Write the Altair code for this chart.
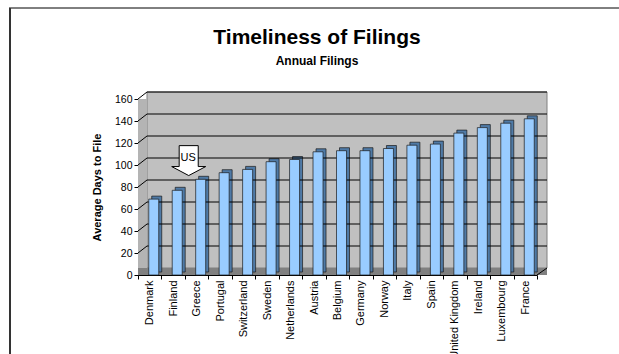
import altair as alt
import pandas as pd

countries = ["Denmark", "Finland", "Greece", "Portugal", "Switzerland", "Sweden",
             "Netherlands", "Austria", "Belgium", "Germany", "Norway", "Italy",
             "Spain", "United Kingdom", "Ireland", "Luxembourg", "France"]
days = [69, 77, 87, 93, 96, 103, 105, 112, 113, 113, 115, 118, 119, 129, 134, 138, 142]
y_ticks = [0, 20, 40, 60, 80, 100, 120, 140, 160]
grid_vals = [20, 40, 60, 80, 100, 120, 140, 160]
title_text = "Timeliness of Filings"
subtitle_text = "Annual Filings"
y_title = "Average Days to File"

df = pd.DataFrame({"country": countries, "days": days})
grid_df = pd.DataFrame({"v": grid_vals})
one = pd.DataFrame({"a": [0]})
arrow_df = pd.DataFrame({"country": ["Finland"], "v": [104], "label": ["US"]})
title_df = pd.DataFrame({"t": [title_text]})
subtitle_df = pd.DataFrame({"t": [subtitle_text]})

W, H = 399, 176
FONT = "Liberation Sans"
YSCALE = alt.Scale(domain=[0, 160], nice=False)
XSCALE = alt.Scale(paddingInner=0, paddingOuter=0)

XAXIS = alt.Axis(labelAngle=-90, labelFontSize=11, labelFont=FONT, labelColor="black",
                 tickBand="extent", tickSize=4, tickColor="black", domainColor="black",
                 labelPadding=1, grid=False, labelOverlap=False)
YAXIS = alt.Axis(values=y_ticks, tickSize=4, tickColor="black", domainColor="black",
                 labelFontSize=10.5, labelFont=FONT, labelColor="black", labelPadding=2,
                 labelOverlap=False, labelFlush=False, grid=False,
                 titleFont=FONT, titleFontSize=11, titleFontWeight="bold",
                 titleColor="black", titlePadding=12)


def xenc():
    return alt.X("country:N", sort=countries, title=None, scale=XSCALE, axis=XAXIS)


def yenc(field):
    return alt.Y(field, title=y_title, scale=YSCALE, axis=YAXIS)


wall = alt.Chart(one).mark_rect(color="#c0c0c0", stroke="#808080", strokeWidth=1).encode(
    x=alt.value(9), x2=alt.value(409), y=alt.value(-7), y2=alt.value(169))
side_wall = alt.Chart(one).mark_rect(color="#b4b4b4").encode(
    x=alt.value(0), x2=alt.value(9), y=alt.value(0), y2=alt.value(176))
floor = alt.Chart(one).mark_rect(color="#808080").encode(
    x=alt.value(0), x2=alt.value(409), y=alt.value(169), y2=alt.value(176))

bar_side = alt.Chart(df).mark_bar(size=10, xOffset=7, yOffset=-3, color="#4f7aa6",
                                  stroke="#1a1a1a", strokeWidth=0.7).encode(
    x=xenc(), y=yenc("days:Q"))
bar_front = alt.Chart(df).mark_bar(size=10, xOffset=4, color="#99ccff",
                                   stroke="#1a1a1a", strokeWidth=0.7).encode(
    x=xenc(), y=yenc("days:Q"))

grid = alt.Chart(grid_df).mark_rule(color="black", strokeWidth=1, yOffset=-7).encode(
    y=yenc("v:Q"), x=alt.value(9), x2=alt.value(409))
grid_diag = alt.Chart(grid_df).mark_rule(color="black", strokeWidth=1, y2Offset=-7).encode(
    y=yenc("v:Q"), y2="v:Q", x=alt.value(0), x2=alt.value(9))
right_diag = alt.Chart(one).mark_rule(color="black", strokeWidth=1).encode(
    x=alt.value(399), x2=alt.value(409), y=alt.value(176), y2=alt.value(169))

arrow_path = "M -0.56 -0.88 L 0.56 -0.88 L 0.56 0.35 L 1 0.35 L 0 0.88 L -1 0.35 L -0.56 0.35 Z"
arrow = alt.Chart(arrow_df).mark_point(shape=arrow_path, size=1156, filled=True,
                                       fill="white", stroke="black", strokeWidth=1,
                                       opacity=1, xOffset=15.5).encode(
    x=xenc(), y=yenc("v:Q"))
arrow_txt = alt.Chart(arrow_df).mark_text(font=FONT, fontSize=11, color="black",
                                          xOffset=15, yOffset=-3).encode(
    x=xenc(), y=yenc("v:Q"), text="label:N")

title_mark = alt.Chart(title_df).mark_text(font=FONT, fontSize=21, fontWeight="bold",
                                           color="black", align="center",
                                           baseline="alphabetic").encode(
    x=alt.value(179), y=alt.value(-55), text="t:N")
subtitle_mark = alt.Chart(subtitle_df).mark_text(font=FONT, fontSize=12, fontWeight="bold",
                                                 color="black", align="center",
                                                 baseline="alphabetic").encode(
    x=alt.value(179), y=alt.value(-34), text="t:N")

top_border = alt.Chart(one).mark_rule(color="black", strokeWidth=1).encode(
    x=alt.value(-129), x2=alt.value(481), y=alt.value(-91))
left_border = alt.Chart(one).mark_rule(color="#333333", strokeWidth=2).encode(
    x=alt.value(-128), y=alt.value(-91), y2=alt.value(255))

chart = alt.layer(
    wall, side_wall, floor, bar_side, grid, grid_diag, right_diag, bar_front,
    arrow, arrow_txt, title_mark, subtitle_mark, top_border, left_border
).properties(
    width=W, height=H,
    autosize=alt.AutoSizeParams(type="none"),
    padding={"left": 138, "top": 99, "right": 82, "bottom": 79},
    background="white",
).configure_view(stroke=None)

chart.save("out.html", embed_options={"renderer": "svg", "actions": False})
